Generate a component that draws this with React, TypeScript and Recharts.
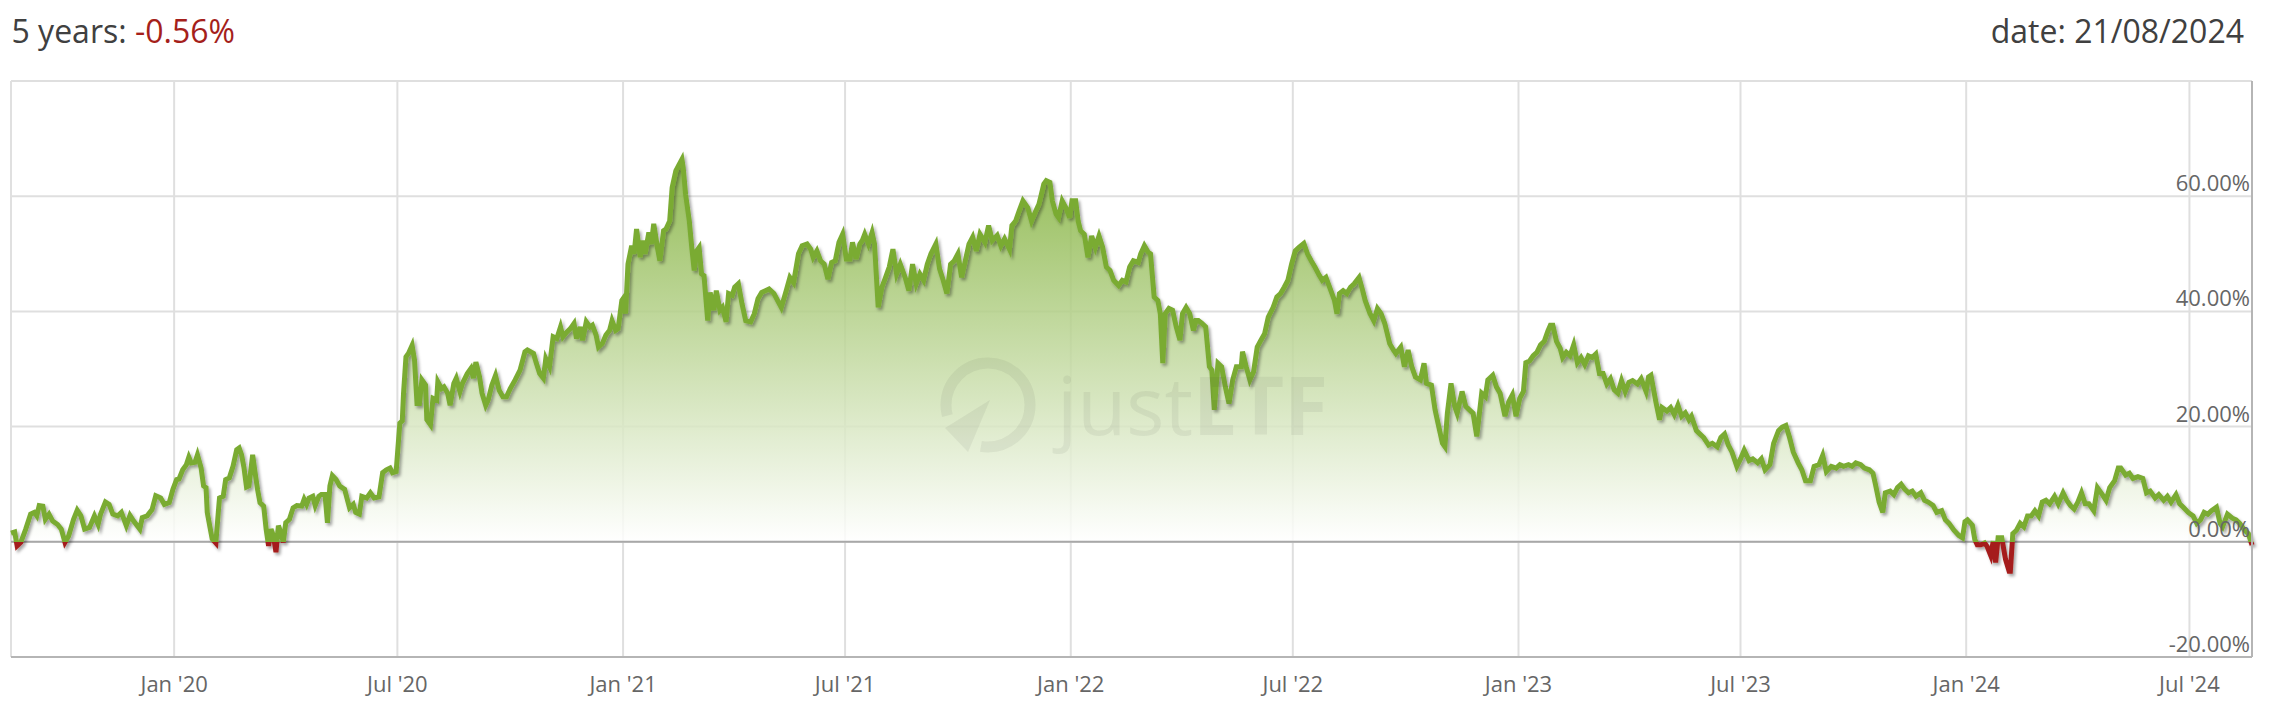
import { ComposedChart, Area, Line, XAxis, YAxis, CartesianGrid, ReferenceLine } from "recharts"

const START = Date.UTC(2019, 7, 21)
const DAY_MS = 86400000
const FONT = "'Open Sans', 'DejaVu Sans', sans-serif"

// days since 21/08/2019
const days = [
  0, 3, 5, 8, 12, 16, 19, 21, 23, 26, 28, 31, 34, 38, 41, 44, 47, 51, 54, 57, 60, 64, 68, 71, 73, 77, 80, 83, 87, 90,
  94, 97, 100, 105, 107, 111, 115, 118, 122, 125, 129, 132, 135, 137, 140, 143, 145, 147, 150, 152, 155, 157, 159, 160, 162, 164, 167, 169, 170, 173,
  175, 178, 181, 184, 186, 188, 190, 192, 194, 197, 199, 201, 203, 206, 208, 210, 212, 214, 216, 218, 220, 222, 224, 227, 230, 233, 237, 239, 241, 243,
  246, 248, 251, 253, 256, 258, 260, 262, 265, 268, 272, 276, 279, 281, 284, 286, 290, 293, 296, 300, 303, 306, 309, 311, 314, 317, 319, 320, 322, 324,
  327, 329, 331, 333, 335, 338, 339, 342, 344, 347, 348, 351, 353, 356, 358, 361, 363, 366, 368, 372, 375, 377, 379, 382, 384, 387, 389, 392, 395, 398,
  401, 404, 407, 411, 415, 419, 421, 426, 428, 431, 434, 436, 439, 442, 445, 448, 450, 453, 456, 459, 461, 464, 466, 469, 472, 474, 477, 479, 482, 485,
  488, 490, 493, 495, 498, 499, 501, 503, 506, 508, 510, 513, 515, 517, 520, 522, 524, 527, 529, 532, 534, 537, 539, 542, 544, 547, 548, 550, 553, 555,
  557, 559, 561, 563, 565, 568, 570, 573, 575, 578, 580, 583, 585, 588, 590, 593, 596, 599, 603, 606, 609, 612, 615, 618, 622, 625, 628, 632, 635, 638,
  642, 645, 649, 652, 654, 657, 660, 663, 666, 669, 672, 675, 678, 681, 684, 686, 689, 692, 694, 696, 699, 702, 704, 707, 710, 713, 716, 719, 722, 725,
  729, 732, 735, 738, 741, 744, 747, 750, 754, 757, 760, 763, 766, 769, 772, 775, 778, 781, 784, 787, 790, 794, 797, 800, 804, 807, 810, 814, 816, 819,
  822, 825, 829, 832, 835, 838, 840, 842, 844, 847, 849, 852, 854, 857, 860, 863, 865, 868, 870, 872, 875, 878, 881, 884, 887, 890, 893, 896, 899, 903,
  906, 909, 912, 915, 919, 921, 924, 927, 929, 932, 935, 937, 939, 941, 944, 947, 950, 953, 955, 958, 961, 964, 966, 968, 971, 974, 977, 979, 981, 984,
  987, 990, 993, 996, 999, 1003, 1004, 1007, 1010, 1013, 1016, 1019, 1022, 1025, 1029, 1032, 1035, 1038, 1041, 1044, 1047, 1050, 1054, 1057, 1060, 1063, 1066, 1069, 1072, 1075,
  1079, 1081, 1083, 1086, 1089, 1092, 1095, 1099, 1102, 1104, 1108, 1111, 1114, 1117, 1120, 1124, 1127, 1129, 1133, 1136, 1139, 1142, 1145, 1149, 1152, 1154, 1158, 1161, 1164, 1167,
  1169, 1171, 1174, 1177, 1179, 1183, 1186, 1189, 1192, 1195, 1199, 1202, 1204, 1208, 1211, 1214, 1218, 1221, 1224, 1227, 1230, 1233, 1235, 1238, 1241, 1244, 1247, 1250, 1253, 1255,
  1257, 1260, 1263, 1265, 1268, 1271, 1274, 1277, 1280, 1283, 1286, 1289, 1292, 1295, 1298, 1301, 1304, 1307, 1310, 1313, 1316, 1319, 1322, 1326, 1329, 1333, 1335, 1337, 1341, 1344,
  1346, 1350, 1353, 1356, 1359, 1362, 1365, 1368, 1370, 1374, 1377, 1380, 1384, 1387, 1391, 1394, 1397, 1400, 1403, 1407, 1410, 1413, 1417, 1420, 1424, 1427, 1430, 1434, 1437, 1441,
  1444, 1447, 1450, 1453, 1457, 1460, 1463, 1467, 1470, 1474, 1477, 1480, 1484, 1488, 1491, 1494, 1498, 1501, 1504, 1508, 1511, 1515, 1518, 1520, 1523, 1526, 1528, 1532, 1535, 1538,
  1541, 1544, 1547, 1550, 1553, 1557, 1560, 1563, 1567, 1570, 1574, 1577, 1580, 1584, 1588, 1591, 1593, 1595, 1599, 1601, 1603, 1606, 1609, 1611, 1614, 1616, 1618, 1620, 1623, 1626,
  1629, 1630, 1632, 1635, 1638, 1641, 1644, 1647, 1650, 1653, 1656, 1659, 1662, 1666, 1669, 1673, 1676, 1679, 1682, 1685, 1688, 1691, 1694, 1698, 1701, 1705, 1708, 1711, 1715, 1718,
  1720, 1724, 1727, 1730, 1734, 1738, 1741, 1744, 1748, 1751, 1755, 1758, 1761, 1765, 1768, 1771, 1775, 1779, 1782, 1785, 1788, 1791, 1794, 1798, 1801, 1803, 1807, 1811, 1814, 1817,
  1821, 1824, 1827,
]

// performance in %
const returns = [
  1.5, 1.7, -0.7, -0.1, 2.2, 4.8, 5.1, 4.5, 6.3, 6.2, 3.9, 4.8, 3.6, 3.0, 2.2, -0.1, 1.0, 3.9, 5.5, 4.5, 2.2, 2.5, 4.5, 3.0, 4.8, 6.9, 6.5, 4.8, 4.5, 5.1,
  2.8, 4.6, 3.6, 2.2, 4.2, 4.5, 5.6, 8.0, 7.6, 6.5, 6.8, 9.1, 10.8, 10.9, 12.5, 13.4, 14.7, 13.7, 13.8, 15.1, 12.8, 9.7, 9.4, 5.1, 2.8, 0.5, -0.2, 5.1, 7.6, 7.9,
  10.8, 11.1, 13.1, 16.0, 16.3, 15.1, 12.8, 9.5, 9.7, 15.1, 12.0, 9.1, 6.8, 6.2, 2.2, -0.7, 2.2, 1.0, -1.8, 2.8, 1.6, -0.1, 3.3, 3.9, 5.9, 6.3, 6.2, 7.4, 6.5, 7.6,
  7.9, 6.3, 7.9, 8.2, 8.2, 3.3, 9.7, 11.5, 10.8, 9.7, 9.1, 5.9, 6.5, 5.1, 4.8, 7.9, 7.6, 8.5, 7.6, 7.8, 12.0, 12.5, 12.8, 12.0, 12.2, 20.6, 21.0, 25.7, 32.1, 32.7,
  34.1, 31.5, 24.0, 24.0, 28.1, 27.2, 21.2, 20.3, 24.9, 24.6, 27.8, 26.6, 26.9, 25.8, 23.7, 27.5, 28.4, 26.1, 27.5, 29.2, 30.1, 28.4, 31.2, 28.6, 25.8, 23.7, 24.6, 27.2, 28.9, 26.3,
  25.2, 25.2, 26.6, 28.1, 29.8, 33.0, 33.3, 32.7, 31.2, 29.2, 28.4, 31.8, 30.4, 35.6, 35.3, 37.3, 35.6, 36.4, 37.0, 37.9, 35.3, 37.3, 35.0, 38.2, 37.3, 37.6, 35.9, 33.8, 34.4, 35.9,
  36.7, 38.4, 36.7, 37.0, 41.9, 42.2, 39.6, 48.2, 51.4, 50.0, 54.3, 49.4, 52.3, 50.0, 53.7, 51.7, 55.2, 51.1, 48.8, 54.0, 54.3, 55.7, 61.5, 64.4, 65.2, 66.4, 65.0, 60.3, 55.7, 51.1,
  47.1, 50.5, 51.1, 46.5, 46.2, 38.4, 43.3, 40.2, 43.6, 40.2, 40.7, 38.2, 43.1, 42.8, 44.2, 44.8, 41.3, 38.4, 38.2, 39.6, 42.2, 43.3, 43.6, 43.9, 43.1, 41.9, 40.7, 43.6, 45.9, 45.0,
  50.0, 51.4, 51.7, 50.8, 49.4, 50.5, 48.8, 48.2, 45.6, 48.5, 48.8, 52.0, 53.4, 49.1, 49.1, 52.0, 49.1, 51.7, 52.3, 53.4, 51.7, 53.7, 51.7, 40.7, 44.2, 45.9, 47.7, 50.8, 46.5, 48.2,
  45.9, 43.6, 48.2, 44.8, 46.5, 45.4, 48.2, 50.0, 51.7, 47.4, 45.4, 43.1, 48.2, 48.8, 50.0, 45.9, 48.8, 51.7, 52.9, 50.5, 53.4, 52.0, 54.9, 52.3, 53.2, 51.4, 52.6, 50.8, 54.9, 55.7,
  57.5, 59.2, 58.0, 55.7, 57.2, 58.6, 60.3, 62.1, 62.7, 62.4, 59.2, 56.9, 56.3, 59.2, 58.0, 56.3, 59.2, 59.2, 55.7, 54.0, 53.4, 49.4, 53.1, 51.1, 53.1, 51.1, 47.7, 47.1, 45.4, 44.5,
  45.4, 45.1, 47.7, 48.8, 48.5, 50.0, 51.4, 50.3, 50.0, 42.5, 41.9, 39.6, 31.0, 39.6, 40.5, 40.2, 37.3, 35.0, 39.6, 40.7, 39.6, 36.7, 38.4, 38.4, 37.9, 37.3, 30.4, 29.8, 22.9, 31.0,
  30.4, 26.9, 24.0, 28.1, 30.4, 30.4, 33.0, 30.4, 28.1, 29.5, 33.8, 35.0, 36.1, 39.0, 40.7, 42.5, 43.1, 44.2, 45.4, 48.2, 50.5, 51.1, 51.8, 50.0, 48.8, 47.7, 46.5, 45.4, 45.9, 44.2,
  41.9, 39.6, 43.1, 43.6, 43.1, 44.2, 44.8, 45.9, 43.6, 41.9, 39.6, 38.4, 40.5, 39.6, 37.9, 34.4, 33.3, 32.7, 33.8, 30.4, 33.3, 30.4, 28.6, 28.1, 31.0, 27.5, 27.2, 22.9, 20.0, 17.1,
  16.5, 22.3, 27.5, 23.5, 22.3, 26.1, 23.5, 22.9, 22.3, 18.3, 25.8, 25.2, 28.1, 28.9, 26.9, 25.8, 21.8, 24.3, 25.5, 21.8, 24.9, 26.1, 31.1, 31.4, 32.3, 32.9, 34.2, 34.8, 36.6, 37.6,
  37.6, 34.8, 33.6, 32.0, 32.9, 32.3, 34.2, 31.1, 32.0, 30.8, 32.3, 32.0, 32.6, 29.2, 29.2, 27.4, 28.3, 26.4, 25.8, 28.0, 26.1, 27.7, 28.0, 27.4, 28.3, 26.1, 28.6, 28.9, 24.3, 21.2,
  23.3, 22.7, 23.3, 22.1, 23.7, 21.8, 22.4, 21.2, 21.8, 19.3, 18.7, 18.1, 16.8, 17.1, 16.5, 18.1, 18.7, 16.8, 15.6, 13.1, 14.4, 15.9, 14.1, 14.4, 13.7, 14.4, 12.5, 13.4, 17.1, 19.3,
  19.9, 20.2, 18.1, 15.6, 13.7, 12.5, 10.6, 10.6, 13.1, 13.4, 15.0, 12.2, 13.1, 12.8, 13.4, 13.1, 13.4, 13.1, 13.7, 13.4, 12.8, 12.5, 11.9, 10.0, 6.9, 5.1, 8.5, 8.8, 8.2, 9.4,
  10.0, 9.1, 8.5, 8.8, 7.9, 8.5, 7.2, 6.9, 6.3, 5.1, 5.4, 3.8, 3.2, 2.0, 1.1, 0.7, 3.5, 3.8, 2.9, 0.4, -0.5, -0.5, -0.2, -0.8, -2.4, 0.1, -3.6, 0.7, 0.7, -3.0,
  -5.1, -5.1, 1.4, 2.0, 3.2, 2.6, 4.5, 4.5, 5.4, 4.5, 6.9, 7.2, 6.6, 7.9, 6.6, 8.5, 7.2, 6.3, 5.7, 6.9, 8.5, 6.6, 6.6, 5.4, 9.4, 8.2, 7.2, 9.4, 10.6, 12.8,
  12.8, 11.6, 11.9, 11.0, 11.3, 11.0, 8.5, 8.8, 7.6, 8.2, 7.2, 7.9, 6.9, 8.2, 6.6, 6.0, 5.1, 4.5, 3.2, 3.8, 5.1, 4.8, 5.4, 6.0, 3.2, 2.6, 4.8, 4.1, 3.8, 3.2,
  2.0, 1.4, -0.56,
]

const tickDates = ["2020-01-01", "2020-07-01", "2021-01-01", "2021-07-01", "2022-01-01", "2022-07-01", "2023-01-01", "2023-07-01", "2024-01-01", "2024-07-01"]
const tickLabels = ["Jan '20", "Jul '20", "Jan '21", "Jul '21", "Jan '22", "Jul '22", "Jan '23", "Jul '23", "Jan '24", "Jul '24"]
const yTicks = [-20, 0, 20, 40, 60, 80]

const data = days.map((d, i) => ({ day: d, v: returns[i] }))
const xTicks = tickDates.map(d => Math.round((Date.parse(d) - START) / DAY_MS))
const lastDay = days[days.length - 1]
const maxV = Math.max(...returns)
const minV = Math.min(...returns)
const zeroOff = maxV / (maxV - minV)

function XTick(p: any) {
  const i = xTicks.indexOf(p.payload.value)
  return <text x={p.x} y={p.y + 35} textAnchor="middle" fontSize={22} fontFamily={FONT} fill="#666">{tickLabels[i]}</text>
}

function YTick(p: any) {
  const v = p.payload.value
  if (v === 80) return <g />
  return <text x={p.x} y={p.y - 5} textAnchor="end" fontSize={22} fontFamily={FONT} fill="#666">{`${v.toFixed(2)}%`}</text>
}

export default function App() {
  return (
    <div style={{ position: "absolute", left: 0, top: 0, width: 2274, height: 712, background: "#fff" }}>
      <style>{`.recharts-line-curve { filter: url(#lineShadow); }`}</style>
      <ComposedChart width={2274} height={712} data={data} margin={{ top: 81, right: 22, bottom: 0, left: 11 }}>
        <defs>
          <linearGradient id="fillGrad" x1="0" y1="0" x2="0" y2="1">
            <stop offset={0} stopColor="#80b038" stopOpacity={0.85} />
            <stop offset={zeroOff} stopColor="#ffffff" stopOpacity={0.85} />
            <stop offset={1} stopColor="#ffffff" stopOpacity={0} />
          </linearGradient>
          <linearGradient id="lineGrad" x1="0" y1="0" x2="0" y2="1">
            <stop offset={0} stopColor="#7aab33" />
            <stop offset={zeroOff} stopColor="#7aab33" />
            <stop offset={zeroOff} stopColor="#a51f1b" />
            <stop offset={1} stopColor="#a51f1b" />
          </linearGradient>
          <filter id="lineShadow" x="-5%" y="-20%" width="110%" height="140%">
            <feDropShadow dx="2" dy="2.5" stdDeviation="1.6" floodColor="#000" floodOpacity="0.35" />
          </filter>
        </defs>
        <CartesianGrid stroke="#dfdfdf" strokeWidth={2} />
        <ReferenceLine x={0} stroke="#e0e0e0" strokeWidth={2} />
        <XAxis dataKey="day" type="number" domain={[0, lastDay]} ticks={xTicks} interval={0} height={55}
          tickSize={0} tickMargin={0} tickLine={false} axisLine={{ stroke: "#b5b5b5", strokeWidth: 2 }} tick={XTick} />
        <YAxis orientation="right" mirror type="number" domain={[-20, 80]} ticks={yTicks} interval={0}
          tickSize={0} tickMargin={2} tickLine={false} axisLine={{ stroke: "#b5b5b5", strokeWidth: 2 }} tick={YTick} />
        <Area dataKey="v" type="linear" stroke="none" fill="url(#fillGrad)" fillOpacity={1} baseValue={0} isAnimationActive={false} activeDot={false} />
        <ReferenceLine y={0} stroke="#a8a8a8" strokeWidth={2} />
        <Line dataKey="v" type="linear" stroke="url(#lineGrad)" strokeWidth={5} dot={false} activeDot={false}
          isAnimationActive={false} />
      </ComposedChart>
      <svg width={2274} height={712} style={{ position: "absolute", left: 0, top: 0, pointerEvents: "none" }}>
        <text x={11.5} y={43} fontSize={32} fontFamily={FONT} fill="#404040">
          5 years: <tspan fill="#a51f1b">-0.56%</tspan>
        </text>
        <text x={2244} y={43} textAnchor="end" fontSize={32} fontFamily={FONT} fill="#404040">date: 21/08/2024</text>
        <g fill="rgba(60,60,60,0.07)">
          <circle cx={988} cy={405} r={42} fill="none" stroke="rgba(60,60,60,0.07)" strokeWidth={11} strokeDasharray="73 48 143" />
          <polygon points="990,400 945,428 968,452" />
          <text x={1057} y={435} fontSize={80} fontFamily={FONT}>just<tspan fontWeight={700}>ETF</tspan></text>
        </g>
      </svg>
    </div>
  )
}
